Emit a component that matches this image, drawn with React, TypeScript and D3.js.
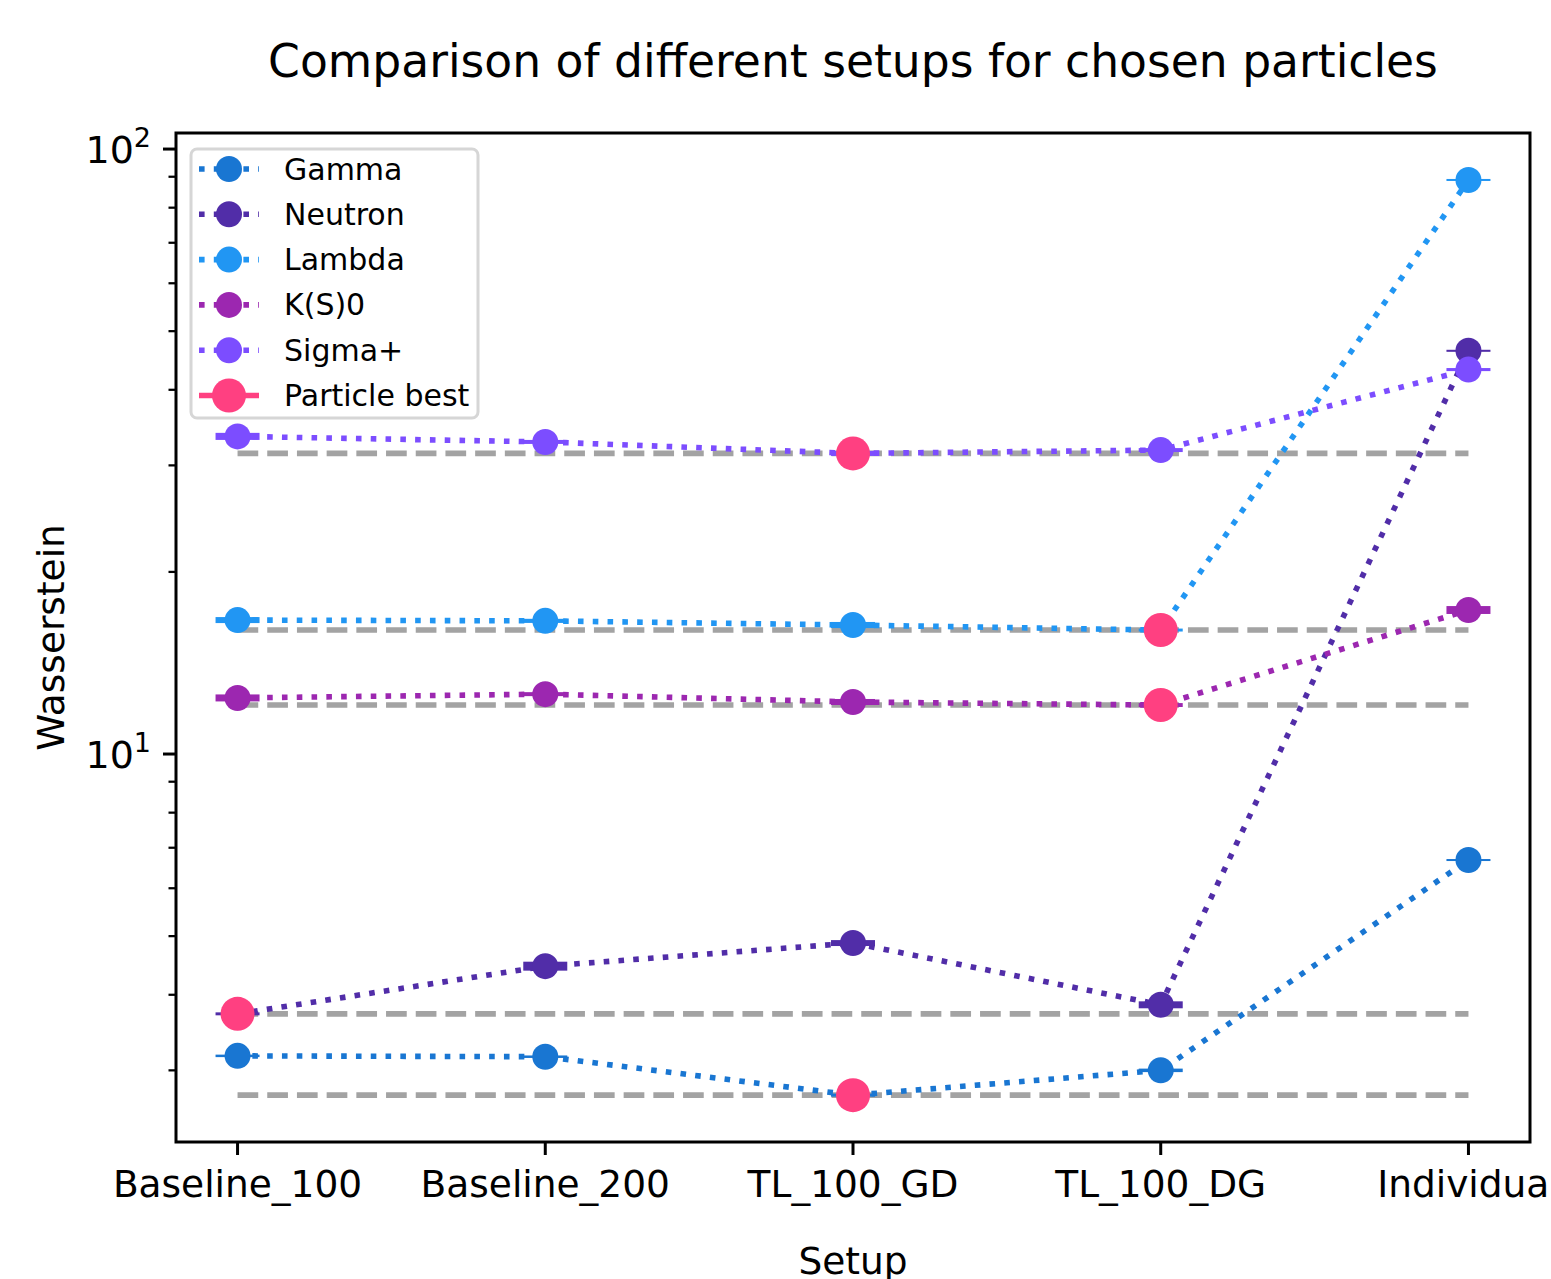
import { useEffect, useRef } from 'react';
import * as d3 from 'd3';

// Data
const setups = ['Baseline_100', 'Baseline_200', 'TL_100_GD', 'TL_100_DG', 'Individual'];
const particles = ['Gamma', 'Neutron', 'Lambda', 'K(S)0', 'Sigma+'];
const colors = ['#1976D2', '#512DA8', '#2196F3', '#9C27B0', '#7C4DFF'];
const bestColor = '#FF4081';

const gammaValues = [3.17, 3.16, 2.73, 3.0, 6.68];
const neutronValues = [3.72, 4.46, 4.87, 3.85, 46.4];
const lambdaValues = [16.65, 16.6, 16.34, 16.03, 88.9];
const kaonValues = [12.38, 12.56, 12.19, 12.05, 17.3];
const sigmaValues = [33.5, 32.8, 31.4, 31.8, 43.2];

// small spread around every point (drawn as the horizontal bars)
const gammaErr = [0.015, 0.015, 0.016, 0.02, 0.025];
const neutronErr = [0.021, 0.076, 0.055, 0.051, 0.18];
const lambdaErr = [0.19, 0.13, 0.19, 0.09, 0.34];
const kaonErr = [0.165, 0.095, 0.14, 0.09, 0.26];
const sigmaErr = [0.45, 0.25, 0.3, 0.24, 0.25];

const seriesValues = [gammaValues, neutronValues, lambdaValues, kaonValues, sigmaValues];
const seriesErr = [gammaErr, neutronErr, lambdaErr, kaonErr, sigmaErr];

const WIDTH = 1551;
const HEIGHT = 1279;
const FONT = 'DejaVu Sans, sans-serif';

export default function App() {
  const svgRef = useRef<SVGSVGElement | null>(null);

  useEffect(() => {
    if (!svgRef.current) return;
    const svg = d3.select(svgRef.current);
    svg.selectAll('*').remove();

    const left = 176, right = 1530, top = 133, bottom = 1142;

    const x = d3.scaleLinear().domain([-0.2, setups.length - 1 + 0.2]).range([left, right]);
    const y = d3.scaleLog().domain([2.284, 106.3]).range([bottom, top]);

    const plot = svg.append('g');

    // dashed line at the best value of each particle
    seriesValues.forEach(vals => {
      const best = d3.min(vals) as number;
      plot.append('line')
        .attr('x1', x(0)).attr('x2', x(setups.length - 1))
        .attr('y1', y(best)).attr('y2', y(best))
        .attr('stroke', '#a3a3a3')
        .attr('stroke-width', 5.6)
        .attr('stroke-dasharray', '20.7 9');
    });

    // series: dotted line, bars and markers
    const line = d3.line<number>().x((_, i) => x(i)).y(d => y(d));
    seriesValues.forEach((vals, s) => {
      const g = plot.append('g');
      g.append('path')
        .attr('d', line(vals))
        .attr('fill', 'none')
        .attr('stroke', colors[s])
        .attr('stroke-width', 5.6)
        .attr('stroke-dasharray', '5.6 9.2');
      const barH = (d: number, i: number) =>
        Math.max(2, y(d - seriesErr[s][i]) - y(d + seriesErr[s][i]));
      g.selectAll('rect')
        .data(vals)
        .join('rect')
        .attr('x', (_, i) => x(i) - 22)
        .attr('width', 44)
        .attr('y', (d, i) => y(d) - barH(d, i) / 2)
        .attr('height', (d, i) => barH(d, i))
        .attr('fill', colors[s]);
      g.selectAll('circle')
        .data(vals)
        .join('circle')
        .attr('cx', (_, i) => x(i))
        .attr('cy', d => y(d))
        .attr('r', 13)
        .attr('fill', colors[s]);
    });

    // best point of each particle
    seriesValues.forEach(vals => {
      const best = d3.min(vals) as number;
      const idx = vals.indexOf(best);
      plot.append('circle')
        .attr('cx', x(idx))
        .attr('cy', y(best))
        .attr('r', 17)
        .attr('fill', bestColor);
    });

    // frame
    svg.append('rect')
      .attr('x', left).attr('y', top)
      .attr('width', right - left).attr('height', bottom - top)
      .attr('fill', 'none').attr('stroke', '#000').attr('stroke-width', 3);

    // x ticks
    const xt = svg.append('g');
    setups.forEach((name, i) => {
      xt.append('line')
        .attr('x1', x(i)).attr('x2', x(i))
        .attr('y1', bottom).attr('y2', bottom + 13)
        .attr('stroke', '#000').attr('stroke-width', 3);
      xt.append('text')
        .attr('x', x(i)).attr('y', 1197)
        .attr('text-anchor', 'middle')
        .attr('font-family', FONT).attr('font-size', 37.5)
        .text(name);
    });

    // y ticks (log)
    const yt = svg.append('g');
    const [lo, hi] = y.domain();
    const minorTicks: number[] = [];
    for (let dec = 1; dec <= 100; dec *= 10) {
      for (let m = 2; m <= 9; m++) {
        const v = m * dec;
        if (v >= lo && v <= hi) minorTicks.push(v);
      }
    }
    minorTicks.forEach(v => {
      yt.append('line')
        .attr('x1', left - 7.5).attr('x2', left)
        .attr('y1', y(v)).attr('y2', y(v))
        .attr('stroke', '#000').attr('stroke-width', 2.25);
    });
    [10, 100].forEach(v => {
      yt.append('line')
        .attr('x1', left - 13).attr('x2', left)
        .attr('y1', y(v)).attr('y2', y(v))
        .attr('stroke', '#000').attr('stroke-width', 3);
      const t = yt.append('text')
        .attr('x', left - 25).attr('y', y(v) + 14)
        .attr('text-anchor', 'end')
        .attr('font-family', FONT).attr('font-size', 38);
      t.append('tspan').text('10');
      t.append('tspan')
        .attr('font-size', 27)
        .attr('dy', -16)
        .text(String(Math.round(Math.log10(v))));
    });

    // labels and title
    svg.append('text')
      .attr('x', (left + right) / 2).attr('y', 77)
      .attr('text-anchor', 'middle')
      .attr('font-family', FONT).attr('font-size', 45.6)
      .text('Comparison of different setups for chosen particles');

    svg.append('text')
      .attr('x', (left + right) / 2).attr('y', 1274)
      .attr('text-anchor', 'middle')
      .attr('font-family', FONT).attr('font-size', 37.5)
      .text('Setup');

    svg.append('text')
      .attr('transform', `translate(64,${(top + bottom) / 2}) rotate(-90)`)
      .attr('text-anchor', 'middle')
      .attr('font-family', FONT).attr('font-size', 37.5)
      .text('Wasserstein');

    // legend
    const lg = svg.append('g');
    lg.append('rect')
      .attr('x', 191).attr('y', 149)
      .attr('width', 287).attr('height', 269)
      .attr('rx', 6)
      .attr('fill', 'rgba(255,255,255,0.8)')
      .attr('stroke', '#d6d6d6').attr('stroke-width', 3);

    const labels = [...particles, 'Particle best'];
    labels.forEach((label, i) => {
      const cy = 169 + i * 45.3;
      const isBest = i === particles.length;
      const c = isBest ? bestColor : colors[i];
      lg.append('line')
        .attr('x1', 199).attr('x2', 259)
        .attr('y1', cy).attr('y2', cy)
        .attr('stroke', c).attr('stroke-width', 5.6)
        .attr('stroke-dasharray', isBest ? null : '5.6 9.2');
      lg.append('circle')
        .attr('cx', 229).attr('cy', cy)
        .attr('r', isBest ? 17 : 13)
        .attr('fill', c);
      lg.append('text')
        .attr('x', 284).attr('y', cy)
        .attr('dy', '0.35em')
        .attr('font-family', FONT).attr('font-size', 30)
        .text(label);
    });
  }, []);

  return (
    <svg
      ref={svgRef}
      width={WIDTH}
      height={HEIGHT}
      style={{ position: 'absolute', left: 0, top: 0, overflow: 'hidden', background: '#fff' }}
    />
  );
}
